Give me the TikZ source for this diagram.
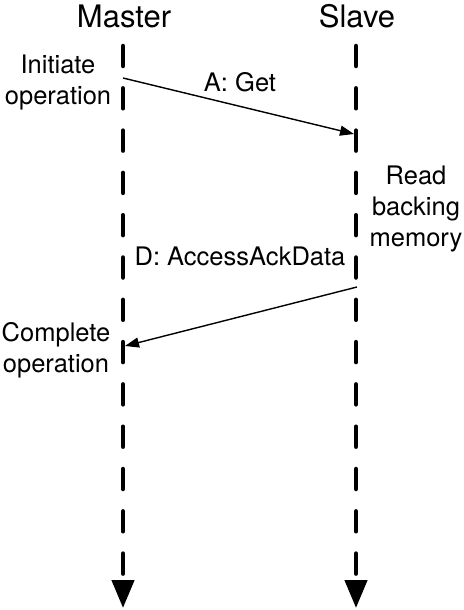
\documentclass[tikz,border=0pt]{standalone}
\usepackage{fontspec}
\setmainfont{TeX Gyre Heros}
\usetikzlibrary{arrows.meta}
\begin{document}
\begin{tikzpicture}[x=1pt,y=-1pt,
  lifeline/.style={line width=4.5pt, line cap=round, dash pattern=on 20pt off 22.3pt,
    -{Triangle[width=22pt,length=28pt]}},
  msg/.style={line width=1.4pt, -{Triangle[width=10pt,length=14pt]}},
  head/.style={font=\fontsize{31}{37}\selectfont, anchor=base, inner sep=0pt},
  lbl/.style={font=\fontsize{25.5}{31}\selectfont, anchor=base, inner sep=0pt, align=center}]
\useasboundingbox (0,0) rectangle (463,610);
\node[head] (master) at (124,28) {Master};
\node[head] (slave) at (357,28) {Slave};
\coordinate (mtop) at (123,46);
\coordinate (mbot) at (123,608);
\coordinate (stop) at (356,46);
\coordinate (sbot) at (356,608);
\draw[lifeline] (mtop) -- (mbot);
\draw[lifeline] (stop) -- (sbot);
\node[lbl] (init) at (58,104) {Initiate\\operation};
\node[lbl] (read) at (416,246) {Read\\backing\\memory};
\node[lbl] (compl) at (56,372) {Complete\\operation};
\coordinate (a1) at (123,78);
\coordinate (a2) at (354,134);
\coordinate (d1) at (357,287);
\coordinate (d2) at (125,346);
\draw[msg] (a1) -- (a2);
\node[lbl] (get) at (240,92) {A: Get};
\node[lbl] (data) at (240,265) {D: AccessAckData};
\draw[msg] (d1) -- (d2);
\end{tikzpicture}
\end{document}
